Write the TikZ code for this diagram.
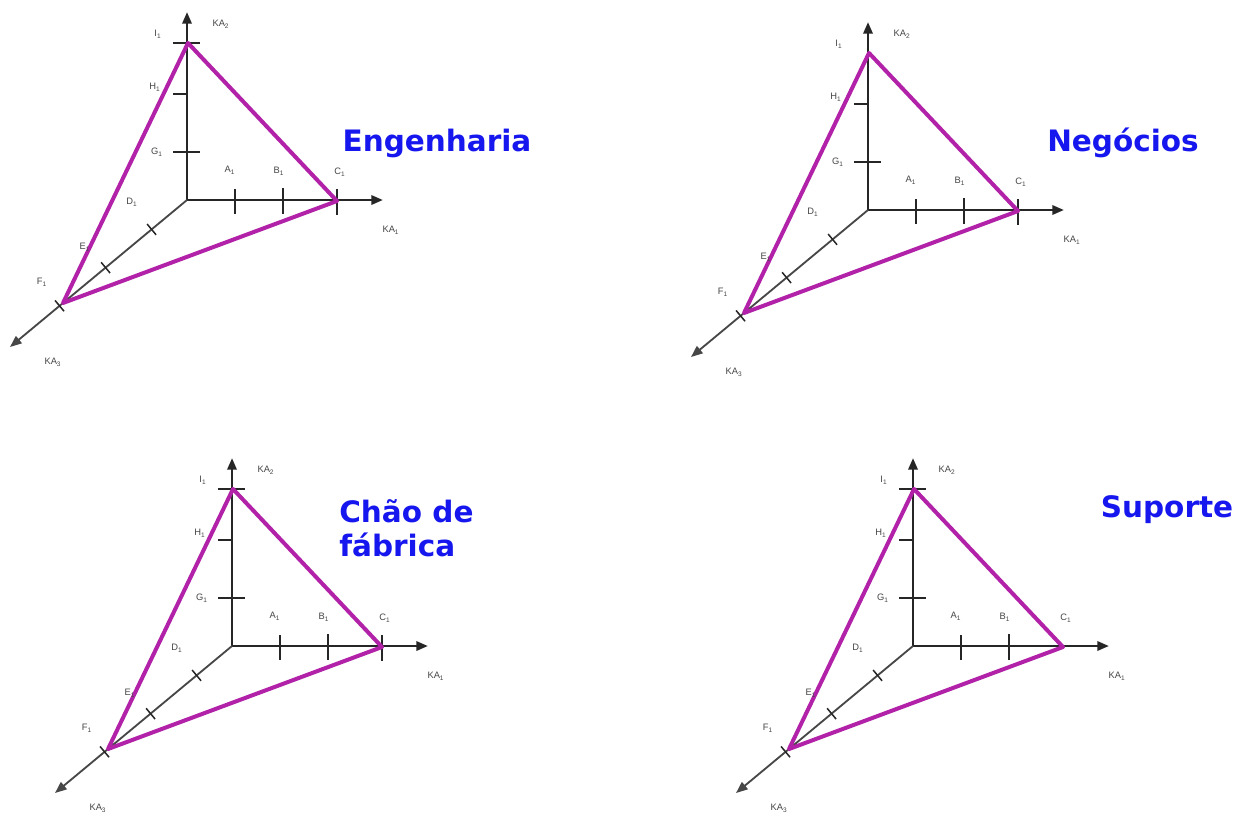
\documentclass[tikz,border=0pt]{standalone}
\usepackage{fontspec}
\setmainfont{Liberation Sans}
\newfontfamily\ttlfont{DejaVu Sans}
\usetikzlibrary{arrows.meta,calc}
\definecolor{tri}{RGB}{178,34,168}
\definecolor{ttlblue}{RGB}{22,22,238}
\definecolor{axcol}{RGB}{38,38,38}
\definecolor{labcol}{RGB}{70,70,70}
\tikzset{
  axisline/.style={draw=axcol,line width=1.6pt,-{Triangle[length=7pt,width=5.5pt]}},
  diagline/.style={draw=axcol!85,line width=1.1pt,-{Triangle[length=7pt,width=5.5pt]}},
  tickline/.style={draw=axcol,line width=1.4pt},
  crossline/.style={draw=axcol,line width=0.9pt},
  triline/.style={draw=tri,line width=2.4pt,line join=round},
  lab/.style={text=labcol,font=\fontsize{5.6}{6.5}\selectfont,inner sep=0pt},
  ttl/.style={text=ttlblue,font=\ttlfont\bfseries\fontsize{17.7}{20.6}\selectfont,inner sep=0pt}
}
\newcommand{\trpanel}[5]{%
\begin{scope}[shift={(#2,#3)}]
 \coordinate (#1o) at (0,0);
 \coordinate (#1vt) at (0,-188);
 \coordinate (#1ht) at (196,0);
 \coordinate (#1dt) at (-177,147);
 \coordinate (#1I) at (1,-157);
 \coordinate (#1C) at (150,1);
 \coordinate (#1F) at (-124,103);
 \draw[axisline] (#1o) -- (#1vt);
 \draw[axisline] (#1o) -- (#1ht);
 \draw[diagline] (#1o) -- (#1dt);
 % vertical ticks
 \ifnum#4=1 \draw[tickline] (-14,-157) -- (13,-157);\fi
 \draw[tickline] (-14,-106) -- (0,-106);
 \draw[tickline] (-14,-48) -- (13,-48);
 % horizontal ticks
 \draw[tickline] (48,-11) -- (48,14);
 \draw[tickline] (96,-12) -- (96,14);
 \ifnum#5=1 \draw[tickline] (150,-11) -- (150,15);\fi
 % diagonal crosses
 \foreach \f in {0.2,0.46,0.72}{
   \draw[crossline] ($(#1o)!\f!(#1dt)+(-4.5,-5.4)$) -- ($(#1o)!\f!(#1dt)+(4.5,5.4)$);
 }
 % triangle
 \draw[triline] (#1I) -- (#1C) -- (#1F) -- cycle;
 % labels
 \node[lab] (#1lI) at (-29,-166) {I\textsubscript{1}};
 \node[lab] (#1lH) at (-32,-113) {H\textsubscript{1}};
 \node[lab] (#1lG) at (-30,-48) {G\textsubscript{1}};
 \node[lab] (#1lA) at (43,-30) {A\textsubscript{1}};
 \node[lab] (#1lB) at (92,-29) {B\textsubscript{1}};
 \node[lab] (#1lC) at (153,-28) {C\textsubscript{1}};
 \node[lab] (#1lD) at (-55,2) {D\textsubscript{1}};
 \node[lab] (#1lE) at (-102,47) {E\textsubscript{1}};
 \node[lab] (#1lF) at (-145,82) {F\textsubscript{1}};
 \node[lab] (#1lv) at (34,-176) {KA\textsubscript{2}};
 \node[lab] (#1lh) at (204,30) {KA\textsubscript{1}};
 \node[lab] (#1ld) at (-134,162) {KA\textsubscript{3}};
\end{scope}}
\begin{document}
\begin{tikzpicture}[x=0.6pt,y=-0.6pt]
\useasboundingbox[fill=white] (0,0) rectangle (1252,825);
\trpanel{a}{187}{200}{1}{1}
\trpanel{b}{868}{210}{0}{1}
\trpanel{c}{232}{646}{1}{1}
\trpanel{d}{913}{646}{1}{0}
\node[ttl] (t1) at (437,143) {Engenharia};
\node[ttl] (t2) at (1123,143) {Negócios};
\node[ttl,anchor=north west,align=left] (t3) at (339,499) {Chão de\\fábrica};
\node[ttl] (t4) at (1167,510) {Suporte};
\end{tikzpicture}
\end{document}
